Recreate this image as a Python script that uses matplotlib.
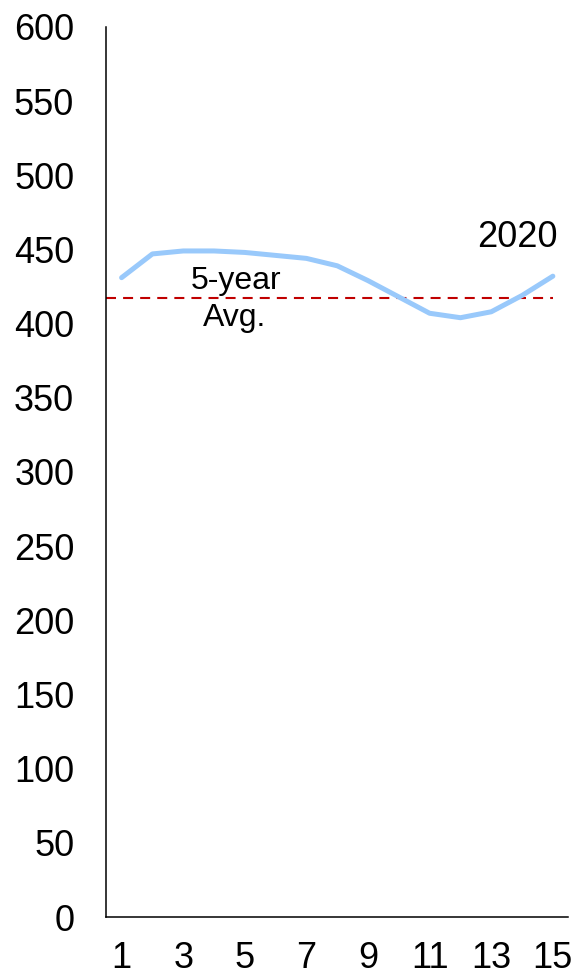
import numpy as np
import matplotlib
matplotlib.use("Agg")
import matplotlib.pyplot as plt

plt.rcParams['font.family'] = ['Liberation Sans', 'DejaVu Sans']

# weekly values, 2020
weeks = np.arange(1, 16)
values_2020 = [431, 447, 449, 449, 448, 446, 444, 439, 429, 418, 407, 404, 408, 419, 432]
avg_5yr = 417

fig = plt.figure(figsize=(5.74, 9.77), dpi=100)
ax = fig.add_axes([0.185, 0.0614, 0.805, 0.911])

ax.plot(weeks, values_2020, color='#99c9fb', lw=3.6, solid_joinstyle='round',
        solid_capstyle='round', zorder=3)
ax.plot([0.5, 15], [avg_5yr, avg_5yr], color='#c00000', lw=1.5,
        dashes=(4.8, 3.4), zorder=2)

ax.text(4.7, 429, '5-year', fontsize=23, ha='center', va='center')
ax.text(4.67, 404, 'Avg.', fontsize=23, ha='center', va='center')
ax.text(13.86, 458, '2020', fontsize=26, ha='center', va='center')

ax.set_xlim(0.5, 15.5)
ax.set_ylim(0, 600)
ax.set_xticks(range(1, 16, 2))
ax.set_yticks(range(0, 601, 50))
ax.tick_params(length=0, labelsize=26)
ax.tick_params(axis='y', pad=23)
ax.tick_params(axis='x', pad=17)

for s in ['top', 'right']:
    ax.spines[s].set_visible(False)
for s in ['left', 'bottom']:
    ax.spines[s].set_linewidth(1.1)

fig.savefig('out.png', dpi=100)
